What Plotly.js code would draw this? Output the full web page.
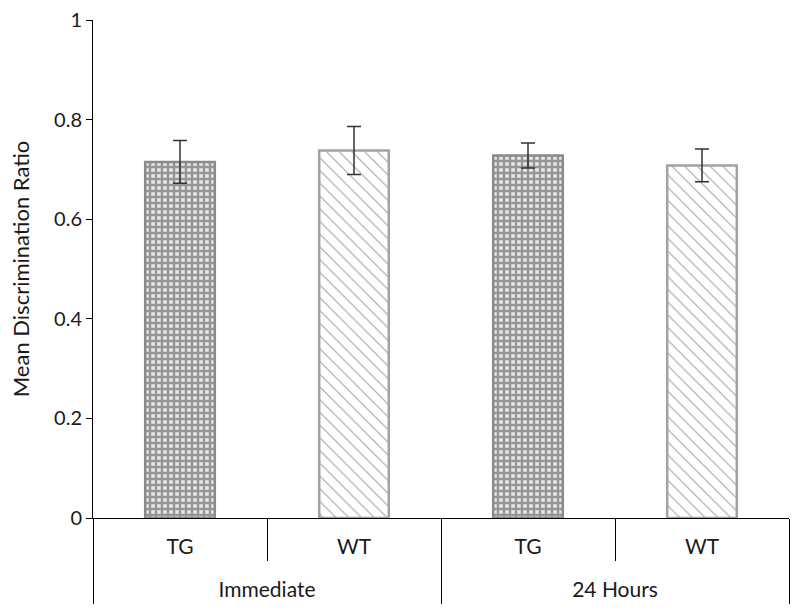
<!DOCTYPE html>
<html>
<head>
<meta charset="utf-8">
<script src="https://cdn.plot.ly/plotly-3.0.1.min.js"></script>
<style>
  body { margin: 0; background: #fff; }
  #chart { width: 800px; height: 614px; }
</style>
</head>
<body>
<div id="chart"></div>
<script>
// values
const timepoints = ['Immediate', 'Immediate', '24 Hours', '24 Hours'];
const genotypes = ['TG', 'WT', 'TG', 'WT'];
const meanRatio = [0.715, 0.738, 0.728, 0.708];
const semRatio = [0.043, 0.048, 0.025, 0.033];
const yTicks = [0, 0.2, 0.4, 0.6, 0.8, 1];
const groupNames = ['Immediate', '24 Hours'];

const isTG = genotypes.map(g => g === 'TG');
const barKeys = genotypes.map((g, i) => timepoints[i] + ' ' + g);

// group centres and boundaries in category index units
const groupCentres = [0.5, 2.5];
const groupEdges = [-0.5, 1.5, 3.5];

const trace = {
  type: 'bar',
  x: barKeys,
  y: meanRatio,
  width: 0.4,
  error_y: {
    type: 'data',
    array: semRatio,
    visible: true,
    color: '#333333',
    thickness: 1.5,
    width: 7,
  },
  marker: {
    color: isTG.map(t => t ? '#e8e8e8' : '#ffffff'),
    line: { color: isTG.map(t => t ? '#8a8a8a' : '#a3a3a3'), width: 2.5 },
    pattern: {
      shape: isTG.map(t => t ? '+' : '\\'),
      fgcolor: isTG.map(t => t ? '#858585' : '#dedede'),
      size: isTG.map(t => t ? 6 : 9),
      solidity: isTG.map(t => t ? 0.65 : 0.12),
      fillmode: 'overlay',
    },
  },
  hoverinfo: 'y',
};

// empty trace so the group axis is drawn
const groupTrace = {
  type: 'scatter',
  x: groupCentres,
  y: [null, null],
  xaxis: 'x2',
  yaxis: 'y',
  hoverinfo: 'skip',
  showlegend: false,
};

const font = { family: 'Lato, "Open Sans", sans-serif', color: '#1a1a1a' };

Plotly.newPlot('chart', [trace, groupTrace], {
  width: 800,
  height: 614,
  margin: { l: 93, r: 11, t: 20, b: 96 },
  paper_bgcolor: '#ffffff',
  plot_bgcolor: '#ffffff',
  font: font,
  showlegend: false,
  xaxis: {
    type: 'category',
    range: [-0.5, 3.5],
    tickvals: barKeys,
    ticktext: genotypes,
    showline: true,
    linecolor: '#000000',
    linewidth: 1,
    ticks: '',
    ticklabelstandoff: 10,
    tickfont: { size: 21, family: font.family, color: '#1a1a1a' },
    showgrid: false,
    zeroline: false,
  },
  xaxis2: {
    type: 'linear',
    overlaying: 'x',
    anchor: 'y',
    side: 'bottom',
    range: [-0.5, 3.5],
    tickmode: 'array',
    tickvals: groupCentres,
    ticktext: groupNames,
    ticks: 'outside',
    ticklen: 42,
    tickcolor: '#000000',
    tickwidth: 1,
    ticklabelstandoff: 11,
    minor: {
      tickmode: 'array',
      tickvals: groupEdges,
      ticks: 'outside',
      ticklen: 85,
      tickcolor: '#000000',
      tickwidth: 1,
      showgrid: false,
    },
    tickfont: { size: 21, family: font.family, color: '#1a1a1a' },
    showline: false,
    showgrid: false,
    zeroline: false,
  },
  yaxis: {
    range: [0, 1],
    tickvals: yTicks,
    ticktext: yTicks.map(v => String(v)),
    showline: true,
    linecolor: '#000000',
    linewidth: 1,
    ticks: 'outside',
    ticklen: 6,
    tickcolor: '#000000',
    tickfont: { size: 20, family: font.family, color: '#1a1a1a' },
    showgrid: false,
    zeroline: false,
    title: { text: 'Mean Discrimination Ratio', font: { size: 22, family: font.family, color: '#1a1a1a' }, standoff: 18 },
  },
}, { displayModeBar: false });
</script>
</body>
</html>
